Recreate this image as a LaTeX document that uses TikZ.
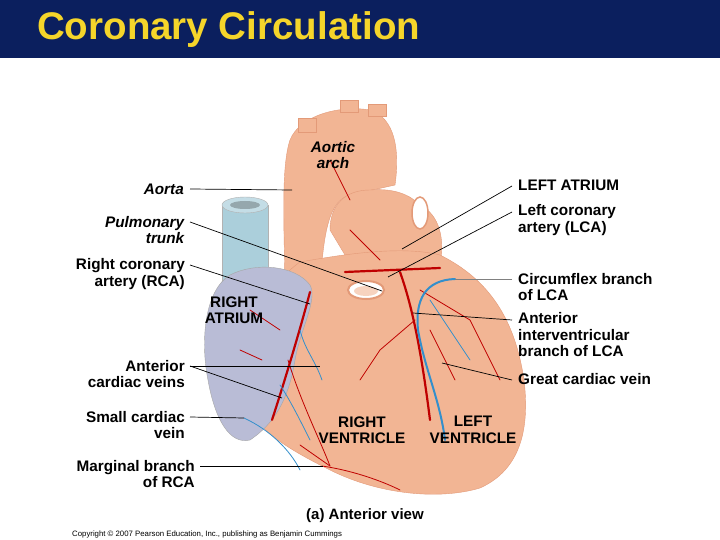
\documentclass[tikz,border=0pt]{standalone}
\usepackage{fontspec}
\setmainfont{Liberation Sans}
\begin{document}
\begin{tikzpicture}[x=1pt,y=-1pt,
  lbl/.style={font=\bfseries\fontsize{15.3}{16.5}\selectfont,inner sep=0pt,align=right,anchor=east},
  lblr/.style={font=\bfseries\fontsize{15.3}{16.5}\selectfont,inner sep=0pt,align=left,anchor=west},
  lblc/.style={font=\bfseries\fontsize{15.3}{16.5}\selectfont,inner sep=0pt,align=center},
  lead/.style={black,line width=0.7pt},
  art/.style={draw=red!75!black,line width=2.2pt,line cap=round},
  artt/.style={draw=red!75!black,line width=0.8pt,line cap=round},
  vein/.style={draw=blue!40!cyan!60!gray,line width=2pt,line cap=round},
  veint/.style={draw=blue!40!cyan!60!gray,line width=0.8pt,line cap=round}]
\definecolor{navy}{HTML}{0B1F5E}
\definecolor{ttl}{HTML}{F5D52A}
\definecolor{peach}{HTML}{F2B594}
\definecolor{peachd}{HTML}{E39A78}
\definecolor{ra}{HTML}{B9BCD6}
\definecolor{svc}{HTML}{ABCFDB}
\useasboundingbox (0,0) rectangle (720,540);
\fill[white] (0,0) rectangle (720,540);
\fill[navy] (0,0) rectangle (720,58);
\node[anchor=west,text=ttl,font=\bfseries\fontsize{38.5}{40}\selectfont,inner sep=0pt] (title) at (37,30) {Coronary Circulation};
% SVC
\fill[svc,draw=gray!60] (222,205) -- (222,300) -- (268,300) -- (268,205) -- cycle;
\fill[svc!70!white,draw=gray!60] (245,205) ellipse (23 and 8);
\fill[svc!50!gray] (245,205) ellipse (15 and 4);
% aorta / arch
\fill[peach,draw=peachd] (285,300) .. controls (285,240) and (280,170) .. (290,140)
  .. controls (300,115) and (340,105) .. (370,110) .. controls (395,118) and (400,150) .. (395,185)
  -- (350,195) .. controls (330,200) and (322,230) .. (320,300) -- cycle;
\fill[peach,draw=peachd] (298,132) rectangle (316,118);
\fill[peach,draw=peachd] (340,112) rectangle (358,100);
\fill[peach,draw=peachd] (368,116) rectangle (386,104);
% left atrium / pulmonary region
\fill[peach,draw=peachd] (330,230) .. controls (330,205) and (345,190) .. (370,190)
  .. controls (395,188) and (410,195) .. (420,205) .. controls (440,215) and (445,240) .. (440,265)
  -- (360,280) -- cycle;
\fill[white,draw=peachd,line width=1.5pt] (420,213) ellipse (8 and 16);
% heart body
\fill[peach,draw=peachd] (300,262) .. controls (340,255) and (400,245) .. (440,255)
  .. controls (490,280) and (515,320) .. (524,380) .. controls (530,430) and (520,470) .. (480,488)
  .. controls (440,500) and (380,495) .. (330,470) .. controls (290,450) and (255,430) .. (245,400)
  .. controls (240,350) and (260,290) .. (300,262) -- cycle;
% right atrium
\fill[ra,draw=gray!70] (230,275) .. controls (255,262) and (295,265) .. (310,285)
  .. controls (318,300) and (300,330) .. (295,360) .. controls (290,390) and (280,420) .. (250,440)
  .. controls (230,445) and (215,420) .. (208,380) .. controls (200,340) and (205,290) .. (230,275) -- cycle;
% pulmonary ring
\fill[white,draw=peachd,line width=2pt] (366,290) ellipse (18 and 9);
\fill[peach!60!white] (366,291) ellipse (12 and 5);
% arteries
\draw[art] (345,272) -- (440,268);
\draw[art] (400,272) .. controls (410,300) and (420,340) .. (430,420);
\draw[art] (310,292) .. controls (300,330) and (285,380) .. (272,420);
\draw[artt] (288,360) .. controls (300,400) and (320,440) .. (330,466);
\draw[artt] (322,466) .. controls (350,470) and (380,480) .. (400,490);
\draw[artt] (330,466) -- (300,445);
\draw[artt] (415,320) -- (380,350) -- (360,380);
\draw[artt] (420,290) -- (470,320) -- (500,380);
\draw[artt] (430,330) -- (455,380);
\draw[artt] (350,230) -- (380,260);
\draw[artt] (330,160) -- (350,200);
\draw[artt] (280,330) -- (250,310);
\draw[artt] (262,360) -- (240,350);
% veins
\draw[vein] (455,279) .. controls (425,280) and (415,300) .. (418,330) .. controls (425,370) and (440,400) .. (445,440);
\draw[veint] (430,300) -- (470,360);
\draw[veint] (300,330) .. controls (305,350) and (315,360) .. (322,380);
\draw[veint] (280,385) .. controls (290,400) and (300,420) .. (310,440);
\draw[veint] (244,418) .. controls (270,430) and (290,450) .. (300,470);
% labels left
\node[lblc] (aarch) at (333,155) {\textit{Aortic}\\\textit{arch}};
\node[lbl] (aorta) at (184,189) {\textit{Aorta}};
\node[lbl] (pt) at (185,230) {\textit{Pulmonary}\\\textit{trunk}};
\node[lbl] (rca) at (185,274) {Right coronary\\artery (RCA)};
\node[lbl] (acv) at (185,374) {Anterior\\cardiac veins};
\node[lbl] (scv) at (185,425) {Small cardiac\\vein};
\node[lbl] (mb) at (195,474) {Marginal branch\\of RCA};
\node[lblc] (ratr) at (234,310) {RIGHT\\ATRIUM};
\node[lblc] (rv) at (362,430) {RIGHT\\VENTRICLE};
\node[lblc] (lv) at (473,430) {LEFT\\VENTRICLE};
% labels right
\node[lblr] (la) at (518,185) {LEFT ATRIUM};
\node[lblr] (lca) at (518,220) {Left coronary\\artery (LCA)};
\node[lblr] (cfx) at (518,287) {Circumflex branch\\of LCA};
\node[lblr] (aiv) at (518,335) {Anterior\\interventricular\\branch of LCA};
\node[lblr] (gcv) at (518,379) {Great cardiac vein};
\node[font=\bfseries\fontsize{15}{16}\selectfont,inner sep=0pt] (view) at (365,516) {(a) Anterior view};
\node[anchor=west,font=\fontsize{7.8}{9}\selectfont,inner sep=0pt] (copy) at (72,534) {Copyright \textcopyright{} 2007 Pearson Education, Inc., publishing as Benjamin Cummings};
% leaders
\coordinate (e1) at (292,190); \draw[lead] (190,189) -- (e1);
\coordinate (e2) at (382,291); \draw[lead] (190,222) -- (e2);
\coordinate (e3) at (310,304); \draw[lead] (190,265) -- (e3);
\coordinate (e4) at (320,366); \draw[lead] (190,366) -- (e4);
\coordinate (e5) at (282,398); \draw[lead] (190,366) -- (e5);
\coordinate (e6) at (244,418); \draw[lead] (190,417) -- (e6);
\coordinate (e7) at (323,466); \draw[lead] (200,466) -- (e7);
\coordinate (f1) at (402,249); \draw[lead] (512,186) -- (f1);
\coordinate (f2) at (388,277); \draw[lead] (512,212) -- (f2);
\coordinate (f3) at (455,279); \draw[gray,line width=0.7pt] (512,279) -- (f3);
\coordinate (f4) at (413,313); \draw[lead] (512,320) -- (f4);
\coordinate (f5) at (442,363); \draw[lead] (512,380) -- (f5);
\end{tikzpicture}
\end{document}
